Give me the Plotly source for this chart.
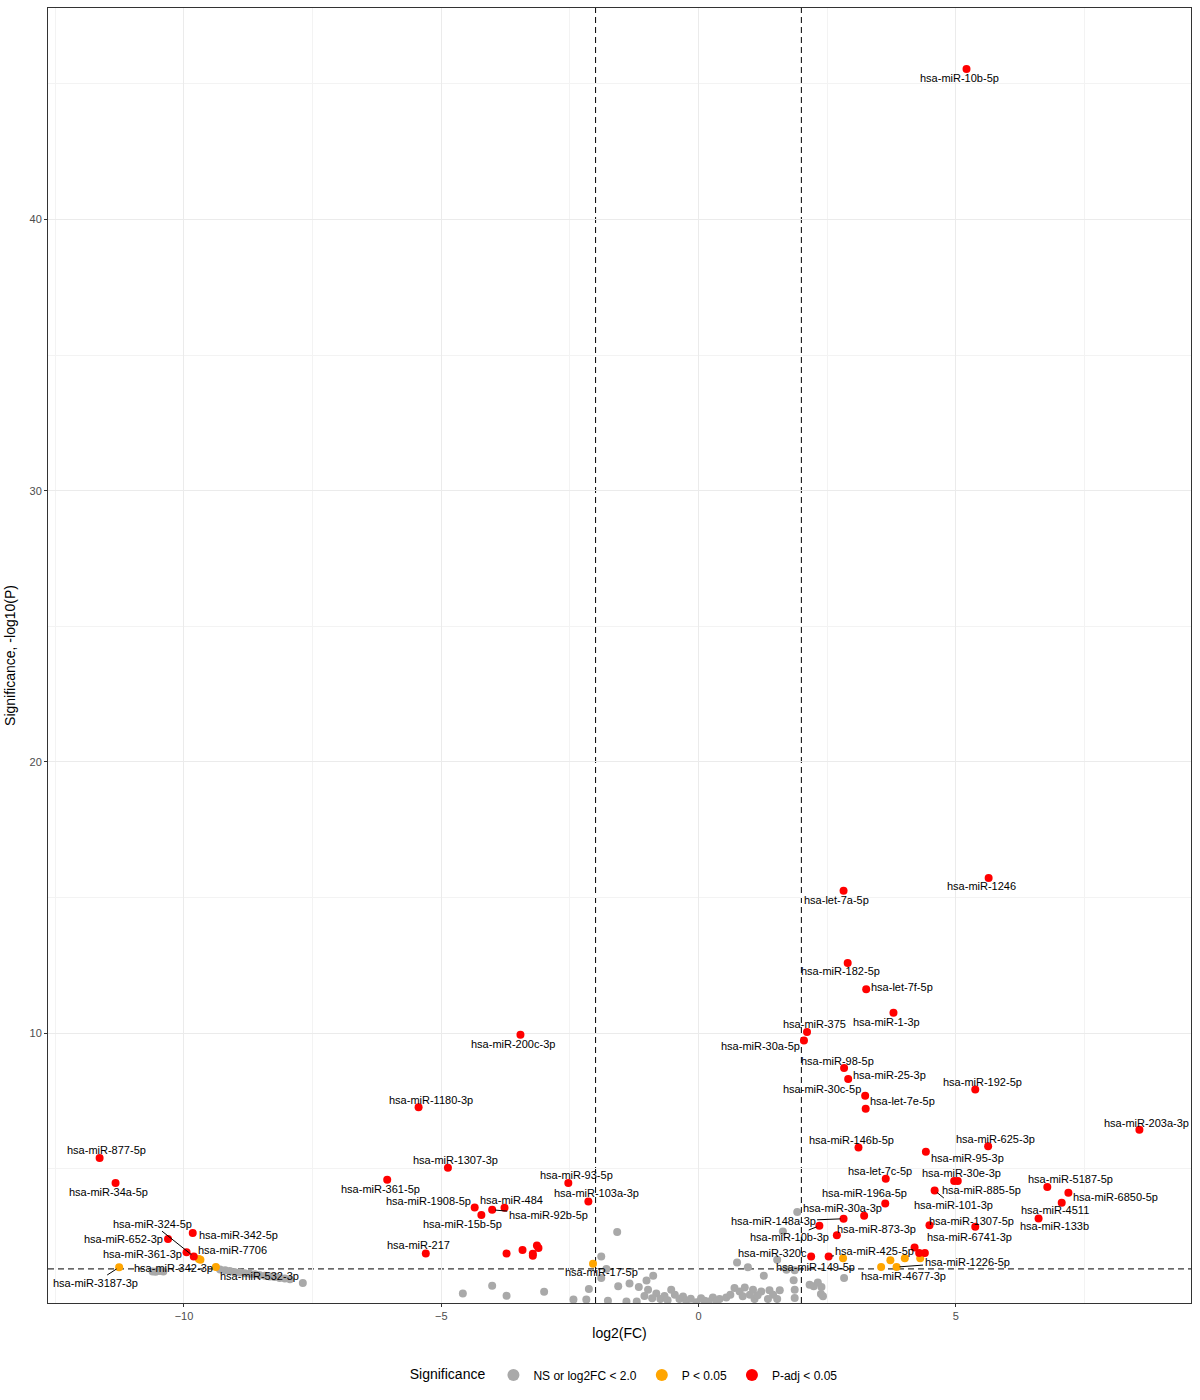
import math
import plotly.graph_objects as go

# ---------------- data ----------------
# Not significant (grey)
ns_x = [-10.61, -10.55, -10.47, -10.40,
        -9.30, -9.20, -9.11, -9.02, -8.92, -8.82, -8.72, -8.62, -8.53, -8.43, -8.33, -8.24, -8.14, -8.04, -7.94, -7.69,
        -4.58, -4.01, -3.73, -3.00, -2.43, -2.18, -2.13, -1.89, -1.79, -1.89, -1.58, -1.76, -1.56, -1.34, -1.16,
        -1.01, -0.98, -1.20, -1.40, -0.88, -0.82, -0.74, -0.53, -0.46, -0.37, -0.24, -0.04, 0.12, 0.28, 0.41,
        0.54, 0.70, 0.75, 0.80, 0.96, 0.86, 1.06, 1.09, 1.22, 1.27, 1.35, 1.38, 1.53, 1.53, 1.58, 1.64, 1.71,
        1.85, 1.87, 1.92, 1.87, 2.16, 2.24, 2.32, 2.39, 2.42, 2.83, 2.38, 1.87,
        -0.66, -0.60, -0.30, -0.15, 0.05, 0.20, 0.35, 0.62, -0.90, -1.05, 1.00, 1.15, 0.90, 1.45]
ns_y = [1.21, 1.20, 1.22, 1.21,
        1.28, 1.25, 1.22, 1.19, 1.17, 1.14, 1.12, 1.10, 1.07, 1.05, 1.02, 1.00, 0.97, 0.95, 0.92, 0.78,
        0.39, 0.68, 0.31, 0.46, 0.17, 0.17, 0.56, 0.97, 1.30, 1.76, 2.66, 0.13, 0.66, 0.76, 0.63,
        0.87, 0.53, 0.10, 0.10, 1.05, 0.39, 0.19, 0.53, 0.35, 0.19, 0.13, 0.07, 0.13, 0.25, 0.19,
        0.25, 0.60, 1.54, 0.47, 1.36, 0.29, 0.53, 0.19, 0.47, 1.05, 0.19, 0.51, 1.64, 0.19, 0.51, 2.68, 1.27,
        0.88, 0.23, 3.40, 0.53, 0.72, 0.66, 0.80, 0.63, 0.29, 0.97, 0.38, 1.25,
        0.30, 0.15, 0.28, 0.20, 0.22, 0.10, 0.12, 0.35, 0.22, 0.30, 0.35, 0.33, 0.62, 0.35]
ns_name = [""] * len(ns_x)
ns_name[13] = "hsa-miR-532-3p"

# P < 0.05 (orange)
p_x = [-11.26, -9.71, -9.68, -9.38, -2.05, 2.81, 3.73, 4.01, 4.31, 3.55, 3.85]
p_y = [1.36, 1.67, 1.64, 1.37, 1.49, 1.69, 1.62, 1.69, 1.69, 1.37, 1.37]
p_name = ["hsa-miR-3187-3p", "hsa-miR-7706", "", "hsa-miR-342-3p", "hsa-miR-17-5p",
          "hsa-miR-149-5p", "", "", "", "hsa-miR-4677-3p", "hsa-miR-1226-5p"]

# P-adj < 0.05 (red)
padj_x = [5.21, 5.64, 2.82, 2.90, 3.26, 3.79, 2.11, 2.05, 2.83, 2.91, 3.24, 3.25, 5.38, 8.57,
          3.11, 5.63, 4.42, 3.64, 4.97, 5.04, 4.59, 3.63, 3.22, 2.82, 2.35, 2.69, 2.19, 2.53,
          6.78, 7.19, 7.06, 6.61, 4.49, 5.38,
          -11.64, -11.33, -9.81, -9.83, -10.31, -9.95,
          -3.46, -5.44, -4.87, -6.05, -2.53, -2.14, -4.35, -3.77, -4.01, -4.22, -5.30,
          -3.73, -3.42, -3.22, -3.22, -3.14, -3.11, 4.20, 4.29, 4.40]
padj_y = [45.55, 15.72, 15.25, 12.58, 11.61, 10.75, 10.04, 9.72, 8.71, 8.30, 7.69, 7.21, 7.92, 6.43,
          5.78, 5.82, 5.62, 4.63, 4.54, 4.54, 4.19, 3.71, 3.26, 3.15, 2.89, 2.54, 1.76, 1.76,
          4.32, 4.11, 3.74, 3.16, 2.91, 2.86,
          5.39, 4.47, 1.76, 2.63, 2.40, 1.92,
          9.94, 7.26, 5.03, 4.59, 4.47, 3.79, 3.57, 3.56, 3.48, 3.29, 1.87,
          1.87, 2.00, 1.86, 1.79, 2.16, 2.07, 2.09, 1.89, 1.89]
padj_name = ["hsa-miR-10b-5p", "hsa-miR-1246", "hsa-let-7a-5p", "hsa-miR-182-5p", "hsa-let-7f-5p",
             "hsa-miR-1-3p", "hsa-miR-375", "hsa-miR-30a-5p", "hsa-miR-98-5p", "hsa-miR-25-3p",
             "hsa-miR-30c-5p", "hsa-let-7e-5p", "hsa-miR-192-5p", "hsa-miR-203a-3p",
             "hsa-miR-146b-5p", "hsa-miR-625-3p", "hsa-miR-95-3p", "hsa-let-7c-5p", "hsa-miR-30e-3p",
             "hsa-miR-885-5p", "hsa-miR-101-3p", "hsa-miR-196a-5p", "hsa-miR-30a-3p", "hsa-miR-148a-3p",
             "hsa-miR-10b-3p", "hsa-miR-873-3p", "hsa-miR-320c", "hsa-miR-425-5p",
             "hsa-miR-5187-5p", "hsa-miR-6850-5p", "hsa-miR-4511", "hsa-miR-133b", "hsa-miR-1307-5p",
             "hsa-miR-6741-3p",
             "hsa-miR-877-5p", "hsa-miR-34a-5p", "hsa-miR-324-5p", "hsa-miR-342-5p", "hsa-miR-652-3p",
             "hsa-miR-361-3p",
             "hsa-miR-200c-3p", "hsa-miR-1180-3p", "hsa-miR-1307-3p", "hsa-miR-361-5p", "hsa-miR-93-5p",
             "hsa-miR-103a-3p", "hsa-miR-1908-5p", "hsa-miR-484", "hsa-miR-92b-5p", "hsa-miR-15b-5p",
             "hsa-miR-217",
             "", "", "", "", "", "", "", "", ""]

# label text positions (data units) and labels drawn with a connector segment
lab_name = ["hsa-miR-10b-5p", "hsa-miR-1246", "hsa-let-7a-5p", "hsa-miR-182-5p", "hsa-let-7f-5p",
            "hsa-miR-1-3p", "hsa-miR-375", "hsa-miR-30a-5p", "hsa-miR-98-5p", "hsa-miR-25-3p",
            "hsa-miR-30c-5p", "hsa-let-7e-5p", "hsa-miR-192-5p", "hsa-miR-203a-3p", "hsa-miR-146b-5p",
            "hsa-miR-625-3p", "hsa-miR-95-3p", "hsa-let-7c-5p", "hsa-miR-30e-3p", "hsa-miR-885-5p",
            "hsa-miR-101-3p", "hsa-miR-196a-5p", "hsa-miR-30a-3p", "hsa-miR-148a-3p", "hsa-miR-10b-3p",
            "hsa-miR-873-3p", "hsa-miR-320c", "hsa-miR-425-5p", "hsa-miR-149-5p", "hsa-miR-4677-3p",
            "hsa-miR-1226-5p", "hsa-miR-5187-5p", "hsa-miR-6850-5p", "hsa-miR-4511", "hsa-miR-133b",
            "hsa-miR-1307-5p", "hsa-miR-6741-3p", "hsa-miR-877-5p", "hsa-miR-34a-5p", "hsa-miR-324-5p",
            "hsa-miR-342-5p", "hsa-miR-652-3p", "hsa-miR-361-3p", "hsa-miR-7706", "hsa-miR-342-3p",
            "hsa-miR-532-3p", "hsa-miR-3187-3p", "hsa-miR-1307-3p", "hsa-miR-361-5p", "hsa-miR-93-5p",
            "hsa-miR-103a-3p", "hsa-miR-1908-5p", "hsa-miR-484", "hsa-miR-92b-5p", "hsa-miR-15b-5p",
            "hsa-miR-217", "hsa-miR-17-5p", "hsa-miR-200c-3p", "hsa-miR-1180-3p"]
lab_x = [5.08, 5.50, 2.69, 2.76, 3.96, 3.65, 2.25, 1.20, 2.70, 3.71,
         2.41, 3.97, 5.52, 8.70, 2.98, 5.78, 5.22, 3.52, 5.12, 5.51,
         4.95, 3.22, 2.79, 1.45, 1.77, 3.46, 1.44, 3.43, 2.28, 3.99,
         5.22, 7.24, 8.10, 6.92, 6.92, 5.30, 5.26, -11.50, -11.46, -10.61,
         -8.95, -11.17, -10.81, -9.05, -10.20, -8.53, -11.72, -4.72, -6.18, -2.38,
         -1.99, -5.25, -3.64, -2.92, -4.58, -5.45, -1.89, -3.60, -5.20]
lab_y = [45.21, 15.41, 14.89, 12.27, 11.71, 10.41, 10.33, 9.51, 8.98, 8.46,
         7.93, 7.48, 8.18, 6.70, 6.07, 6.09, 5.39, 4.93, 4.82, 4.22,
         3.64, 4.10, 3.55, 3.05, 2.46, 2.78, 1.89, 1.98, 1.37, 1.03,
         1.56, 4.63, 3.95, 3.46, 2.87, 3.05, 2.48, 5.67, 4.14, 2.97,
         2.54, 2.40, 1.86, 2.01, 1.33, 1.03, 0.80, 5.33, 4.26, 4.75,
         4.10, 3.79, 3.85, 3.30, 2.97, 2.17, 1.19, 9.59, 7.54]
lab_seg = ["hsa-miR-101-3p", "hsa-miR-148a-3p", "hsa-miR-10b-3p", "hsa-miR-425-5p",
           "hsa-miR-1226-5p", "hsa-miR-324-5p", "hsa-miR-3187-3p", "hsa-miR-92b-5p",
           "hsa-miR-6741-3p"]

x_range = [-12.643, 9.573]
y_range = [0.044, 47.8]
fc_cut = 2.0
p_cut = 0.05

FONT = "Liberation Sans, Arial, Helvetica, sans-serif"

# ---------------- figure ----------------
fig = go.Figure()
series = [
    ("NS or log2FC < 2.0", ns_x, ns_y, "#A9A9A9"),
    ("P < 0.05", p_x, p_y, "#FFA500"),
    ("P-adj < 0.05", padj_x, padj_y, "#FF0000"),
]
for name, xs, ys, col in series:
    fig.add_trace(go.Scatter(
        x=xs, y=ys, mode="markers", name=name,
        marker=dict(color=col, size=8, line=dict(width=0)),
        cliponaxis=True,
    ))

# lookup of point positions by name
pts = {}
for xs, ys, ns in [(ns_x, ns_y, ns_name), (p_x, p_y, p_name), (padj_x, padj_y, padj_name)]:
    for a, b, n in zip(xs, ys, ns):
        if n:
            pts[n] = (a, b)

for n, tx, ty in zip(lab_name, lab_x, lab_y):
    if n in lab_seg and n in pts:
        px, py = pts[n]
        fig.add_annotation(x=px, y=py, ax=tx, ay=ty, axref="x", ayref="y",
                           text=n, showarrow=True, arrowhead=0, arrowwidth=1,
                           arrowcolor="black", standoff=3,
                           font=dict(family=FONT, size=11, color="black"))
    else:
        fig.add_annotation(x=tx, y=ty, text=n, showarrow=False,
                           font=dict(family=FONT, size=11, color="black"))

hl = -math.log10(p_cut)
dash_line = dict(color="black", width=1, dash="6px,4px")
fig.add_shape(type="line", xref="paper", x0=0, x1=1, yref="y", y0=hl, y1=hl,
              line=dash_line, layer="below")
for xv in (-fc_cut, fc_cut):
    fig.add_shape(type="line", xref="x", x0=xv, x1=xv, yref="paper", y0=0, y1=1,
                  line=dash_line, layer="below")

axis_common = dict(
    showline=True, linecolor="#333333", linewidth=1, mirror=True,
    ticks="outside", ticklen=3, tickcolor="#333333", tickwidth=1,
    gridcolor="#EBEBEB", gridwidth=1, zeroline=False,
    tickfont=dict(family=FONT, size=11, color="#4D4D4D"),
)
fig.update_xaxes(range=x_range, tickmode="linear", tick0=0, dtick=5,
                 minor=dict(showgrid=True, gridcolor="#F3F3F3", gridwidth=1, dtick=2.5, tick0=0, ticks=""),
                 title=dict(text="log2(FC)", font=dict(family=FONT, size=14, color="black"), standoff=6),
                 **axis_common)
fig.update_yaxes(range=y_range, tickmode="linear", tick0=0, dtick=10,
                 minor=dict(showgrid=True, gridcolor="#F3F3F3", gridwidth=1, dtick=5, tick0=0, ticks=""),
                 title=dict(text="Significance, -log10(P)", font=dict(family=FONT, size=14, color="black"), standoff=10),
                 **axis_common)

fig.update_layout(
    width=1200, height=1400,
    margin=dict(l=48, r=9, t=8, b=97, autoexpand=False),
    plot_bgcolor="white", paper_bgcolor="white",
    font=dict(family=FONT, color="black"),
    legend=dict(orientation="h", x=0.505, xanchor="center", y=-0.0556, yanchor="middle",
                title=dict(text="Significance", font=dict(family=FONT, size=14, color="black")),
                font=dict(family=FONT, size=12, color="black"),
                itemsizing="constant"),
)

fig.write_html("out.html")
